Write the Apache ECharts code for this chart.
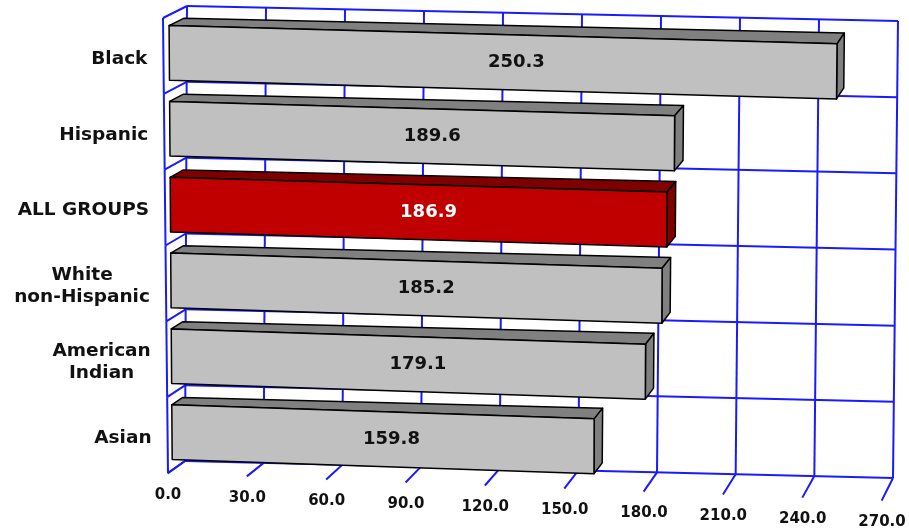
<!DOCTYPE html>
<html>
<head>
<meta charset="utf-8">
<script src="https://cdn.jsdelivr.net/npm/echarts@6/dist/echarts.min.js"></script>
<style>
  html, body { margin: 0; padding: 0; background: #fff; }
  #chart { width: 909px; height: 531px; }
</style>
</head>
<body>
<div id="chart"></div>
<script>
const categories = ["Black", "Hispanic", "ALL GROUPS", "White\nnon-Hispanic", "American\nIndian", "Asian"];
const values = [250.3, 189.6, 186.9, 185.2, 179.1, 159.8];
const highlight = "ALL GROUPS";
const xTicks = [0, 30, 60, 90, 120, 150, 180, 210, 240, 270];

// box corners of the perspective view: front plane (w=0) and back wall (w=1)
const FRONT = { bl: [168, 473], br: [882, 500], tl: [163, 18], tr: [887, 39] };
const BACK = { bl: [185, 461], br: [893, 478], tl: [187, 6], tr: [898, 21] };
const BAR_W0 = 0.25, BAR_W1 = 0.86, BAR_FILL = 0.72;
const BLUE = "#1a1aff";
const FONT = "DejaVu Sans";

function lerp(a, b, t) { return [a[0] + (b[0] - a[0]) * t, a[1] + (b[1] - a[1]) * t]; }
function plane(p, u, v) { return lerp(lerp(p.bl, p.br, u), lerp(p.tl, p.tr, u), v); }
function proj(u, v, w) { return lerp(plane(FRONT, u, v), plane(BACK, u, v), w); }

// flat grid pixel -> normalised (u, v)
function toUV(params, pt) {
  const cs = params.coordSys;
  return [(pt[0] - cs.x) / cs.width, (cs.y + cs.height - pt[1]) / cs.height];
}

function line(a, b, w) {
  return {
    type: "line",
    shape: { x1: a[0], y1: a[1], x2: b[0], y2: b[1] },
    style: { stroke: BLUE, lineWidth: w || 2 }
  };
}

const measureCtx = document.createElement("canvas").getContext("2d");
function textWidth(s, font) {
  measureCtx.font = font;
  return measureCtx.measureText(s).width;
}

const chart = echarts.init(document.getElementById("chart"));

const option = {
  animation: false,
  grid: { left: 185, right: 14, top: 6, bottom: 61 },
  xAxis: { type: "value", min: 0, max: 270, interval: 30, show: false },
  yAxis: { type: "category", data: categories, inverse: true, show: false },
  series: [
    {
      // back wall verticals, floor lines and value-axis labels
      type: "custom",
      z: 1,
      silent: true,
      data: xTicks.map(t => [t, 0]),
      renderItem(params, api) {
        const t = api.value(0);
        const u = toUV(params, api.coord([t, 0]))[0];
        const p = proj(u, 0, 0);
        return {
          type: "group",
          children: [
            line(proj(u, 0, 1), proj(u, 1, 1)),
            line(proj(u, 0, 1), proj(u, 0, -0.03)),
            {
              type: "text",
              style: {
                x: p[0], y: p[1] + 22,
                text: t.toFixed(1),
                align: "center", verticalAlign: "middle",
                font: "bold 15px " + FONT, fill: "#111"
              }
            }
          ]
        };
      }
    },
    {
      // category separators on back and left walls, plus category labels
      type: "custom",
      z: 1,
      silent: true,
      data: categories.map((c, i) => [0, i]),
      renderItem(params, api) {
        const i = api.value(1);
        const c = api.coord([0, i]);
        const band = api.size([0, 1])[1] / params.coordSys.height;
        const vc = toUV(params, c)[1];
        const vt = vc + band / 2, vb = vc - band / 2;
        const kids = [
          line(proj(0, vt, 1), proj(1, vt, 1)),
          line(proj(0, vt, 0), proj(0, vt, 1)),
          line(proj(0, vb, 0), proj(0, vt, 0))
        ];
        if (i === categories.length - 1) {
          kids.push(line(proj(0, vb, 1), proj(1, vb, 1)));
          kids.push(line(proj(0, vb, 0), proj(0, vb, 1)));
        }
        const name = categories[i];
        const p = proj(0, vc, 0);
        const xr = p[0] - 16, yc = p[1] + 3;
        const font = "bold 18.5px " + FONT;
        const lines = name.split("\n");
        if (lines.length === 1) {
          kids.push({
            type: "text",
            style: { x: xr, y: yc, text: name, align: "right", verticalAlign: "middle", font: font, fill: "#111" }
          });
        } else {
          const maxW = Math.max.apply(null, lines.map(s => textWidth(s, font)));
          const lh = 22;
          lines.forEach((s, k) => {
            kids.push({
              type: "text",
              style: {
                x: xr - maxW / 2, y: yc + (k - (lines.length - 1) / 2) * lh,
                text: s, align: "center", verticalAlign: "middle", font: font, fill: "#111"
              }
            });
          });
        }
        return { type: "group", children: kids };
      }
    },
    {
      // 3D bars
      type: "custom",
      z: 2,
      data: values.map((v, i) => [v, i]),
      renderItem(params, api) {
        const val = api.value(0), cat = api.value(1);
        const band = api.size([0, 1])[1];
        const c0 = toUV(params, api.coord([0, cat]));
        const c1 = toUV(params, api.coord([val, cat]));
        const u0 = c0[0], u1 = c1[0], vc = c0[1];
        const dv = band * BAR_FILL / 2 / params.coordSys.height;
        const vb = vc - dv, vt = vc + dv;
        const hot = categories[cat] === highlight;
        const frontFill = hot ? "#c00000" : "#c0c0c0";
        const darkFill = hot ? "#800000" : "#808080";
        const edge = { stroke: "#000", lineWidth: 1.5, lineJoin: "round" };
        const poly = (pts, fill) => ({
          type: "polygon",
          shape: { points: pts },
          style: Object.assign({ fill: fill }, edge)
        });
        const lp = proj(u0 + (u1 - u0) * 0.52, vc, BAR_W0);
        return {
          type: "group",
          children: [
            poly([proj(u0, vt, BAR_W0), proj(u1, vt, BAR_W0), proj(u1, vt, BAR_W1), proj(u0, vt, BAR_W1)], darkFill),
            poly([proj(u1, vb, BAR_W0), proj(u1, vb, BAR_W1), proj(u1, vt, BAR_W1), proj(u1, vt, BAR_W0)], darkFill),
            poly([proj(u0, vb, BAR_W0), proj(u1, vb, BAR_W0), proj(u1, vt, BAR_W0), proj(u0, vt, BAR_W0)], frontFill),
            {
              type: "text",
              style: {
                x: lp[0], y: lp[1],
                text: val.toFixed(1),
                align: "center", verticalAlign: "middle",
                font: "bold 18px " + FONT,
                fill: hot ? "#ffffff" : "#111"
              }
            }
          ]
        };
      }
    }
  ]
};

chart.setOption(option);
</script>
</body>
</html>
